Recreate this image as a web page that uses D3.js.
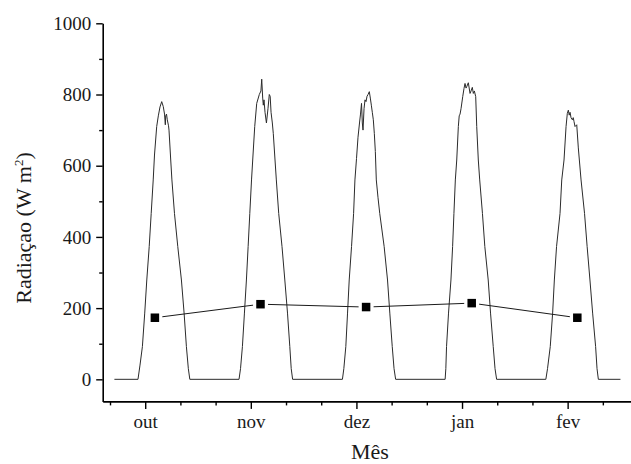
<!DOCTYPE html>
<html>
<head>
<meta charset="utf-8">
<script src="https://cdn.jsdelivr.net/npm/d3@7"></script>
<style>
  html, body { margin: 0; padding: 0; background: #fff; }
  svg { display: block; }
  svg text { font-family: 'Liberation Serif', 'Times New Roman', Times, 'DejaVu Serif', serif; fill: #1a1a1a; }
</style>
</head>
<body>
<svg id="chart" width="631" height="464"></svg>
<script>
// ---------- data (hour of series, radiation W m-2) ----------
const diaOut = [[1,0],[6.36,0],[6.82,40],[7.36,92],[7.89,186],[8.36,279],[8.91,373],[9.36,466],[9.82,560],[10.11,630],[10.61,710],[10.98,740],[11.36,765],[11.75,780],[12.11,766],[12.39,745],[12.57,715],[12.66,740],[12.84,745],[13.02,729],[13.30,712],[13.41,700],[13.80,616],[14.07,560],[14.65,466],[15.4,373],[16.23,279],[16.84,186],[17.36,92],[17.80,30],[18.14,0]];
const diaNov = [[29.32,0],[29.66,30],[30.09,92],[30.55,186],[31.0,279],[31.39,373],[31.77,466],[32.16,560],[32.43,616],[32.89,710],[33.34,775],[33.93,800],[34.3,810],[34.48,843],[34.7,790],[34.84,770],[35.0,785],[35.23,750],[35.55,720],[35.9,760],[36.2,800],[36.4,795],[36.6,750],[36.89,720],[37.11,690],[37.5,616],[37.8,560],[38.34,466],[39.09,373],[39.73,279],[40.34,186],[40.86,92],[41.18,30],[41.5,0]];
const diaDez = [[52.82,0],[53.14,30],[53.59,92],[53.98,186],[54.36,279],[54.89,373],[55.36,466],[55.66,560],[56.02,620],[56.36,680],[56.70,720],[56.93,745],[57.16,775],[57.34,720],[57.50,700],[57.73,760],[57.95,785],[58.18,780],[58.41,795],[58.64,800],[58.93,808],[59.16,790],[59.39,770],[59.61,750],[59.84,729],[60.07,690],[60.30,640],[60.52,560],[60.91,510],[61.30,466],[62.30,373],[63.07,279],[63.59,186],[64.14,92],[64.55,30],[64.91,0]];
const diaJan = [[76.16,0],[76.32,30],[76.48,92],[76.93,186],[77.48,279],[77.86,373],[78.16,466],[78.48,560],[78.80,616],[79.16,710],[79.36,740],[79.55,745],[79.77,760],[80.16,794],[80.45,817],[80.68,831],[80.91,818],[81.07,822],[81.43,833],[81.82,803],[82.05,810],[82.34,820],[82.57,803],[82.80,810],[83.11,794],[83.34,710],[83.70,616],[84.02,560],[84.64,466],[85.18,373],[85.95,279],[86.48,186],[87.09,92],[87.5,30],[87.86,0]];
const diaFev = [[99.05,0],[99.43,30],[100.05,92],[100.59,186],[100.98,279],[101.48,373],[102.27,466],[102.66,560],[103.18,616],[103.64,710],[103.93,747],[104.16,756],[104.36,742],[104.55,750],[104.77,735],[105.07,729],[105.27,735],[105.45,724],[105.68,710],[106.07,715],[106.43,650],[107.05,560],[107.84,466],[108.43,373],[109.07,279],[109.68,186],[110.36,92],[110.68,30],[110.98,0],[116,0]];

const horasMedia = [10.2, 34.2, 58.2, 82.2, 106.2];
const mediaDiaria = [173, 211, 203, 214, 173];

const mesesTicks = [8, 32, 56, 80, 104];
const mesesLabels = ["out", "nov", "dez", "jan", "fev"];
const xMinorTicks = [0, 16, 24, 40, 48, 64, 72, 88, 96, 112];
const yMajorTicks = [0, 200, 400, 600, 800, 1000];
const yMinorTicks = [100, 300, 500, 700, 900];

// ---------- layout ----------
const FONT = "'Liberation Serif', 'Times New Roman', Times, 'DejaVu Serif', serif";
const svg = d3.select("#chart");
const x = d3.scaleLinear().domain([-1.66, 118.4]).range([102.7, 631]);
const y = d3.scaleLinear().domain([-62, 1000]).range([401.4, 23.3]);

const serie = [].concat(diaOut, diaNov, diaDez, diaJan, diaFev);

// radiation line
svg.append("path")
  .datum(serie)
  .attr("fill", "none")
  .attr("stroke", "#2b2b2b")
  .attr("stroke-width", 1)
  .attr("stroke-linejoin", "round")
  .attr("d", d3.line().x(d => x(d[0])).y(d => y(d[1])));

// mean line with gaps at squares
const medias = horasMedia.map((h, i) => [x(h), y(mediaDiaria[i])]);
const gap = 7.5;
for (let i = 0; i < medias.length - 1; i++) {
  const [x1, y1] = medias[i], [x2, y2] = medias[i + 1];
  const dx = x2 - x1, dy = y2 - y1, L = Math.hypot(dx, dy);
  const ux = dx / L, uy = dy / L;
  svg.append("line")
    .attr("x1", x1 + ux * gap).attr("y1", y1 + uy * gap)
    .attr("x2", x2 - ux * gap).attr("y2", y2 - uy * gap)
    .attr("stroke", "#1a1a1a").attr("stroke-width", 1);
}
const sq = 8.5;
svg.selectAll("rect.media")
  .data(horasMedia.map((h, i) => [h, mediaDiaria[i]]))
  .join("rect")
  .attr("class", "media")
  .attr("x", d => x(d[0]) - sq / 2)
  .attr("y", d => y(d[1]) - sq / 2)
  .attr("width", sq).attr("height", sq)
  .attr("fill", "#000");

// ---------- axes ----------
const axisStyle = g => {
  g.attr("font-family", FONT).attr("font-size", 19);
  g.selectAll("path.domain").attr("stroke", "#000").attr("stroke-width", 1.6);
  g.selectAll(".tick line").attr("stroke", "#000").attr("stroke-width", 1.4);
  g.selectAll(".tick text").style("font-family", FONT).style("font-size", "19px").attr("fill", "#1a1a1a");
};

// y minor
svg.append("g").attr("transform", `translate(${x.range()[0]},0)`)
  .call(d3.axisLeft(y).tickValues(yMinorTicks).tickSize(3.5).tickFormat("").tickSizeOuter(0))
  .call(g => g.select("path.domain").remove())
  .call(axisStyle);
// y major
svg.append("g").attr("transform", `translate(${x.range()[0]},0)`)
  .call(d3.axisLeft(y).tickValues(yMajorTicks).tickSize(6.5).tickPadding(5).tickSizeOuter(0)
        .tickFormat(d3.format("d")))
  .call(axisStyle);

// x minor
svg.append("g").attr("transform", `translate(0,${y.range()[0]})`)
  .call(d3.axisBottom(x).tickValues(xMinorTicks).tickSize(4).tickFormat("").tickSizeOuter(0))
  .call(g => g.select("path.domain").remove())
  .call(axisStyle);
// x major
svg.append("g").attr("transform", `translate(0,${y.range()[0]})`)
  .call(d3.axisBottom(x).tickValues(mesesTicks).tickSize(7.5).tickPadding(6).tickSizeOuter(0)
        .tickFormat((d, i) => mesesLabels[i]))
  .call(axisStyle);

// titles
svg.append("text")
  .attr("x", 370).attr("y", 459)
  .attr("text-anchor", "middle")
  .style("font-family", FONT)
  .style("font-size", "22px")
  .text("Mês");

const yt = svg.append("text")
  .attr("transform", "translate(31,228) rotate(-90)")
  .attr("text-anchor", "middle")
  .style("font-family", FONT)
  .style("font-size", "22px");
yt.append("tspan").text("Radiaçao (W m");
yt.append("tspan").attr("dy", -8).style("font-size", "13px").text("2");
yt.append("tspan").attr("dy", 8).text(")");
</script>
</body>
</html>
